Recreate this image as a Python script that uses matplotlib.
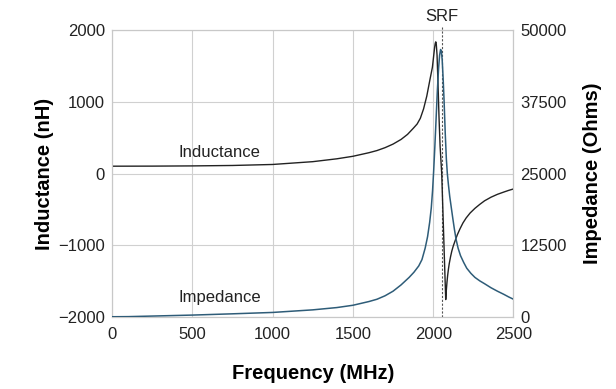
import matplotlib
matplotlib.use("Agg")
import matplotlib.pyplot as plt

plt.rcParams['font.family'] = ['Liberation Sans', 'DejaVu Sans']

# inductance curve (MHz, nH)
freq_L = [0, 250, 500, 750, 1000, 1250, 1400, 1500, 1550, 1600, 1650, 1700,
          1750, 1800, 1840, 1876, 1900, 1920, 1940, 1960, 1980, 1995, 2003,
          2009, 2013, 2016, 2019, 2024, 2030, 2036, 2043, 2053, 2060, 2070,
          2078, 2082, 2086, 2090, 2095, 2100, 2108, 2116, 2125, 2136, 2150,
          2167, 2185, 2205, 2230, 2260, 2290, 2320, 2360, 2400, 2440, 2470,
          2500]
inductance = [102, 103, 106, 112, 126, 165, 205, 240, 265, 290, 320, 360,
              410, 475, 545, 630, 690, 770, 900, 1078, 1311, 1480, 1640,
              1760, 1815, 1835, 1810, 1650, 1250, 800, 380, 0, -490, -1200,
              -1757, -1620, -1510, -1420, -1330, -1255, -1160, -1080, -1010,
              -940, -855, -770, -690, -620, -550, -485, -430, -380, -330, -290,
              -258, -235, -215]

# impedance curve (MHz, Ohms)
freq_Z = [0, 100, 250, 500, 750, 1000, 1250, 1400, 1500, 1600, 1650, 1700,
          1750, 1800, 1850, 1880, 1910, 1930, 1950, 1965, 1978, 1988, 1996,
          2003, 2010, 2018, 2026, 2034, 2040, 2046, 2051, 2056, 2062, 2068,
          2075, 2082, 2088, 2095, 2103, 2112, 2122, 2132, 2142, 2155, 2170,
          2190, 2209, 2235, 2260, 2290, 2320, 2360, 2400, 2440, 2470, 2500]
impedance = [50, 70, 170, 340, 560, 800, 1250, 1650, 2050, 2700, 3100, 3700,
             4500, 5600, 6900, 7800, 8900, 10000, 12000, 14000, 16500, 19000,
             22000, 25500, 29500, 34500, 39500, 43500, 45600, 46600, 46300,
             44800, 41500, 37500, 32000, 27500, 25000, 23000, 21000, 19200,
             17200, 15300, 13600, 12000, 10700, 9500, 8500, 7600, 6900, 6300,
             5800, 5100, 4500, 3950, 3500, 3100]

x_ticks = [0, 500, 1000, 1500, 2000, 2500]
left_ticks = [-2000, -1000, 0, 1000, 2000]
right_ticks = [0, 12500, 25000, 37500, 50000]
srf = 2053

fig = plt.figure(figsize=(6.16, 3.89), dpi=100)
ax = fig.add_axes([0.1818, 0.185, 0.6518, 0.7379])
ax2 = ax.twinx()

ax.set_xlim(0, 2500)
ax.set_ylim(-2000, 2000)
ax2.set_ylim(0, 50000)
ax.set_xticks(x_ticks)
ax.set_yticks(left_ticks)
ax2.set_yticks(right_ticks)
ax.set_xticklabels([str(t) for t in x_ticks])
ax.set_yticklabels(["\u22122000", "\u22121000", "0", "1000", "2000"])
ax2.set_yticklabels([str(t) for t in right_ticks])

ax.grid(True, color="#d0d0d0", linewidth=0.8)
ax.set_axisbelow(True)
for a in (ax, ax2):
    for s in a.spines.values():
        s.set_color("#c8c8c8")
        s.set_linewidth(0.8)
    a.tick_params(length=0, labelsize=12, colors="#222222")
ax.tick_params(axis="x", pad=7)
ax.tick_params(axis="y", pad=5)
ax2.tick_params(axis="y", pad=5)

ax.axvline(srf, color="#555555", linestyle=(0, (2, 1.5)), linewidth=0.8,
           ymax=1.01, clip_on=False)

ax.plot(freq_L, inductance, color="#222222", linewidth=1.0, zorder=3)
ax2.plot(freq_Z, impedance, color="#2e5c78", linewidth=1.1, zorder=3)

ax.text(672, 293, "Inductance", fontsize=12, ha="center", va="center", color="#222222")
ax.text(672, -1730, "Impedance", fontsize=12, ha="center", va="center", color="#222222")
ax.text(srf, 2080, "SRF", fontsize=12, ha="center", va="bottom", color="#222222")

ax.set_xlabel("Frequency (MHz)", fontsize=14.5, fontweight="bold", labelpad=16)
ax.set_ylabel("Inductance (nH)", fontsize=14.5, fontweight="bold", labelpad=3)
ax2.set_ylabel("Impedance (Ohms)", fontsize=14.5, fontweight="bold", labelpad=12)

fig.savefig("out.png", dpi=100)
